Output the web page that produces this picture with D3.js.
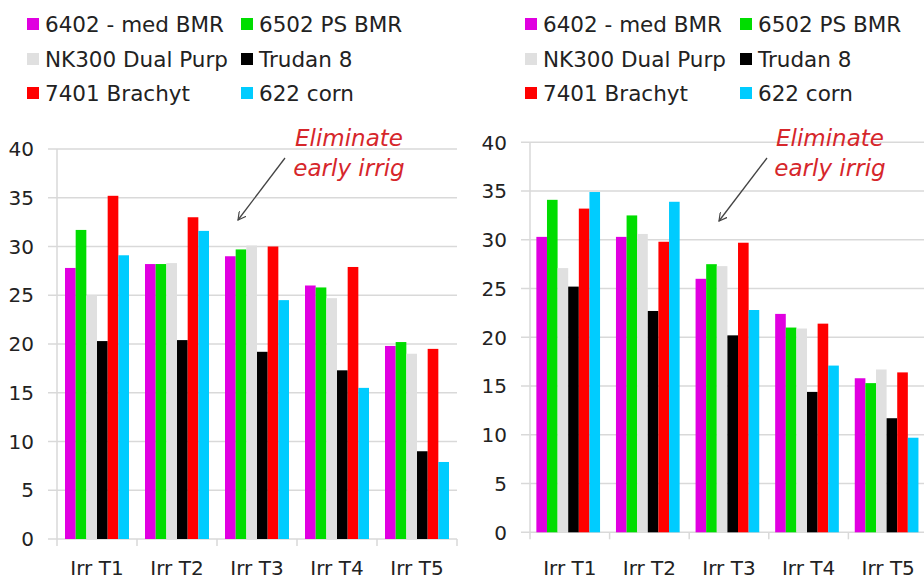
<!DOCTYPE html>
<html><head><meta charset="utf-8">
<script src="https://cdn.jsdelivr.net/npm/d3@7"></script>
<style>body{margin:0;background:#fff}svg{display:block}</style>
</head><body>
<svg id="c" width="924" height="579"></svg>
<script>
const categories = ["Irr T1","Irr T2","Irr T3","Irr T4","Irr T5"];
const seriesNames = ["6402 - med BMR","6502 PS BMR","NK300 Dual Purp","Trudan 8","7401 Brachyt","622 corn"];
const seriesColors = ["#e000e0","#00dd00","#e0e0e0","#000000","#ff0000","#00ccff"];
const yTicks = [0,5,10,15,20,25,30,35,40];
// left chart values: one array per series, indexed by category
const leftValues = [
  [27.8,28.2,29.0,26.0,19.8],
  [31.7,28.2,29.7,25.8,20.2],
  [25.0,28.3,30.1,24.7,19.0],
  [20.3,20.4,19.2,17.3,9.0],
  [35.2,33.0,30.0,27.9,19.5],
  [29.1,31.6,24.5,15.5,7.9]
];
const rightValues = [
  [30.3,30.3,26.0,22.4,15.8],
  [34.1,32.5,27.5,21.0,15.3],
  [27.1,30.6,27.3,20.9,16.7],
  [25.2,22.7,20.2,14.4,11.7],
  [33.2,29.8,29.7,21.4,16.4],
  [34.9,33.9,22.8,17.1,9.7]
];
const noteLines = ["Eliminate","early irrig"];

const svg = d3.select("#c");
svg.append("defs").append("marker")
  .attr("id","arr").attr("viewBox","0 0 10 10").attr("refX",9).attr("refY",5)
  .attr("markerWidth",9).attr("markerHeight",9).attr("orient","auto-start-reverse")
  .attr("markerUnits","userSpaceOnUse")
  .append("path").attr("d","M0,0 L9,5 L0,10").attr("fill","none").attr("stroke","#444").attr("stroke-width",1.3);

function drawChart(cfg){
  const g = svg.append("g");
  const x0 = d3.scaleBand().domain(categories).range([cfg.x0, cfg.x1]).padding(0);
  const bw = x0.bandwidth();
  const x1 = d3.scaleBand().domain(seriesNames).range([bw*cfg.inL, bw*(1-cfg.inR)]).padding(0);
  const y = d3.scaleLinear().domain([0,40]).range([cfg.yb, cfg.yt]);

  // gridlines
  g.selectAll(".grid").data(yTicks).join("line")
    .attr("x1", cfg.x0-9).attr("x2", cfg.x1)
    .attr("y1", d=>y(d)).attr("y2", d=>y(d))
    .attr("stroke","#d9d9d9").attr("stroke-width",1.5);
  // y axis line
  g.append("line").attr("x1",cfg.x0).attr("x2",cfg.x0).attr("y1",y(40)).attr("y2",y(0)+7)
    .attr("stroke","#d9d9d9").attr("stroke-width",1.5);
  // category ticks
  g.selectAll(".ct").data(categories).join("line")
    .attr("x1",c=>x0(c)+bw).attr("x2",c=>x0(c)+bw)
    .attr("y1",y(0)).attr("y2",y(0)+7)
    .attr("stroke","#d9d9d9").attr("stroke-width",1.5);
  // y labels
  g.selectAll(".yl").data(yTicks).join("text")
    .attr("x", cfg.x0-23).attr("y", d=>y(d)).attr("dy","0.36em")
    .attr("text-anchor","end").attr("font-family","DejaVu Sans, Verdana, sans-serif")
    .attr("font-size",20).attr("fill","#222").text(d=>d);
  // bars
  const vals = cfg.values;
  seriesNames.forEach((s,si)=>{
    g.selectAll(".b"+si).data(categories).join("rect")
      .attr("x", c=>x0(c)+x1(s)).attr("width", x1.bandwidth())
      .attr("y", (c,ci)=>y(vals[si][ci])).attr("height",(c,ci)=>y(0)-y(vals[si][ci]))
      .attr("fill", seriesColors[si]);
  });
  // x labels
  g.selectAll(".xl").data(categories).join("text")
    .attr("x", c=>x0(c)+bw/2).attr("y", 575)
    .attr("text-anchor","middle").attr("font-family","DejaVu Sans, Verdana, sans-serif")
    .attr("font-size",20).attr("fill","#222").text(c=>c);
  // legend
  seriesNames.forEach((s,i)=>{
    const col = i%2, row = Math.floor(i/2);
    const lx = cfg.legX[col], ly = [24,59,93][row];
    g.append("rect").attr("x",lx).attr("y",ly-6).attr("width",12).attr("height",12).attr("fill",seriesColors[i]);
    g.append("text").attr("x",lx+cfg.legGap).attr("y",ly).attr("dy","0.36em")
      .attr("font-family","DejaVu Sans, Verdana, sans-serif").attr("font-size",21.5)
      .attr("fill","#222").text(s);
  });
  // annotation
  noteLines.forEach((t,i)=>{
    g.append("text").attr("x",cfg.noteX).attr("y",cfg.noteY+i*30)
      .attr("text-anchor","middle").attr("font-family","DejaVu Sans, Verdana, sans-serif")
      .attr("font-style","italic").attr("font-size",23).attr("fill","#d6262b").text(t);
  });
  g.append("line").attr("x1",cfg.arrow[0]).attr("y1",cfg.arrow[1]).attr("x2",cfg.arrow[2]).attr("y2",cfg.arrow[3])
    .attr("stroke","#444").attr("stroke-width",1.3).attr("marker-end","url(#arr)");
}

drawChart({values:leftValues, x0:57, x1:457, yb:539, yt:149, inL:0.1, inR:0.1,
  legX:[27,241], legGap:18, noteX:349, noteY:146, arrow:[285,158,238,220]});
drawChart({values:rightValues, x0:530, x1:928, yb:532.3, yt:142.3, inL:0.08, inR:0.12,
  legX:[525,740], legGap:18, noteX:830, noteY:146, arrow:[767,158,719,221]});
</script>
</body></html>
